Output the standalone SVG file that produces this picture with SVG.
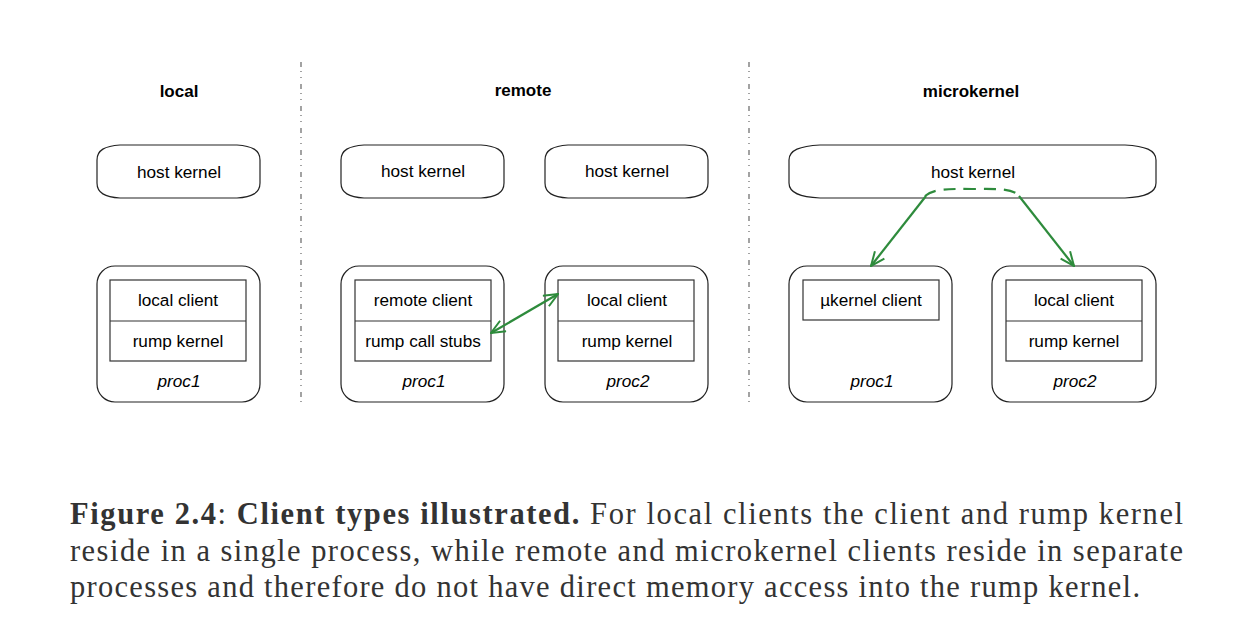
<svg xmlns="http://www.w3.org/2000/svg" width="1253" height="623" viewBox="0 0 1253 623">
<defs>
<marker id="open" viewBox="0 0 16 14" refX="15" refY="7" markerWidth="16" markerHeight="14" markerUnits="userSpaceOnUse" orient="auto-start-reverse">
<path d="M1,1 L15,7 L1,13" fill="none" stroke="#2e8b3c" stroke-width="2"/>
</marker>
</defs>
<style>
.t{font-family:"Liberation Sans",Arial,sans-serif;font-size:17.2px;fill:#000;text-anchor:middle}
.h{font-family:"Liberation Sans",Arial,sans-serif;font-size:17px;font-weight:bold;fill:#000;text-anchor:middle}
.i{font-style:italic}
.box{fill:#fff;stroke:#222;stroke-width:1.2}
.in{fill:#fff;stroke:#333;stroke-width:1.2}
.sep{stroke:#666;stroke-width:1.2;stroke-dasharray:5,4,1,5,1,6}
.g{fill:none;stroke:#2e8b3c;stroke-width:2.2}
.cap{font-family:"Liberation Serif","Times New Roman",serif;font-size:30.5px;fill:#333}
</style>
<rect width="1253" height="623" fill="#fff"/>
<g id="separators">
<line class="sep" x1="301" y1="62" x2="301" y2="402"/>
<line class="sep" x1="749" y1="62" x2="749" y2="402"/>
</g>
<g id="titles">
<text class="h" x="179" y="97">local</text>
<text class="h" x="523" y="96">remote</text>
<text class="h" x="971" y="97">microkernel</text>
</g>
<g id="local-host">
<path class="box" d="M97,160 C97,150 105,146 120,145 L237,145 C252,146 260,150 260,160 L260,183 C260,193 252,197 237,198 L120,198 C105,197 97,193 97,183 Z"/>
<text class="t" x="179" y="178">host kernel</text>
</g>
<g id="local-proc1">
<rect class="box" x="97" y="266" width="163" height="136" rx="18"/>
<rect class="in" x="110" y="280" width="136" height="81"/>
<line class="in" x1="110" y1="321" x2="246" y2="321"/>
<text class="t" x="178" y="306">local client</text>
<text class="t" x="178" y="347">rump kernel</text>
<text class="t i" x="179" y="387">proc1</text>
</g>
<g id="remote-host1">
<path class="box" d="M341,160 C341,150 349,146 364,145 L481,145 C496,146 504,150 504,160 L504,183 C504,193 496,197 481,198 L364,198 C349,197 341,193 341,183 Z"/>
<text class="t" x="423" y="177">host kernel</text>
</g>
<g id="remote-host2">
<path class="box" d="M545,160 C545,150 553,146 568,145 L685,145 C700,146 708,150 708,160 L708,183 C708,193 700,197 685,198 L568,198 C553,197 545,193 545,183 Z"/>
<text class="t" x="627" y="177">host kernel</text>
</g>
<g id="remote-proc1">
<rect class="box" x="341" y="266" width="163" height="136" rx="18"/>
<rect class="in" x="355" y="280" width="136" height="81"/>
<line class="in" x1="355" y1="321" x2="491" y2="321"/>
<text class="t" x="423" y="306">remote client</text>
<text class="t" x="423" y="347">rump call stubs</text>
<text class="t i" x="424" y="387">proc1</text>
</g>
<g id="remote-proc2">
<rect class="box" x="545" y="266" width="163" height="136" rx="18"/>
<rect class="in" x="558" y="280" width="136" height="81"/>
<line class="in" x1="558" y1="321" x2="694" y2="321"/>
<text class="t" x="627" y="306">local client</text>
<text class="t" x="627" y="347">rump kernel</text>
<text class="t i" x="628" y="387">proc2</text>
</g>
<g id="mk-host">
<path class="box" d="M789,160 C789,150 800,146 820,145 L1125,145 C1145,146 1156,150 1156,160 L1156,183 C1156,193 1145,197 1125,198 L820,198 C800,197 789,193 789,183 Z"/>
<text class="t" x="973" y="178">host kernel</text>
</g>
<g id="mk-proc1">
<rect class="box" x="789" y="266" width="163" height="136" rx="18"/>
<rect class="in" x="803" y="280" width="136" height="40"/>
<text class="t" x="871" y="306">µkernel client</text>
<text class="t i" x="872" y="387">proc1</text>
</g>
<g id="mk-proc2">
<rect class="box" x="992" y="266" width="164" height="136" rx="18"/>
<rect class="in" x="1006" y="280" width="136" height="81"/>
<line class="in" x1="1006" y1="321" x2="1142" y2="321"/>
<text class="t" x="1074" y="306">local client</text>
<text class="t" x="1074" y="347">rump kernel</text>
<text class="t i" x="1075" y="387">proc2</text>
</g>
<g id="connectors">
<line class="g" x1="491" y1="333" x2="558" y2="294" marker-start="url(#open)" marker-end="url(#open)"/>
<path class="g" d="M925,196 C935,188 950,189 972,189 C995,189 1010,188 1019,195" stroke-dasharray="12,8"/>
<line class="g" x1="926" y1="196" x2="871" y2="266" marker-end="url(#open)"/>
<line class="g" x1="1019" y1="196" x2="1074" y2="266" marker-end="url(#open)"/>
</g>
<g id="caption">
<text class="cap" x="70" y="524" textLength="1113" lengthAdjust="spacing"><tspan font-weight="bold">Figure 2.4</tspan>: <tspan font-weight="bold">Client types illustrated.</tspan> For local clients the client and rump kernel</text>
<text class="cap" x="70" y="561" textLength="1113" lengthAdjust="spacing">reside in a single process, while remote and microkernel clients reside in separate</text>
<text class="cap" x="70" y="597" textLength="1070" lengthAdjust="spacing">processes and therefore do not have direct memory access into the rump kernel.</text>
</g>
</svg>
